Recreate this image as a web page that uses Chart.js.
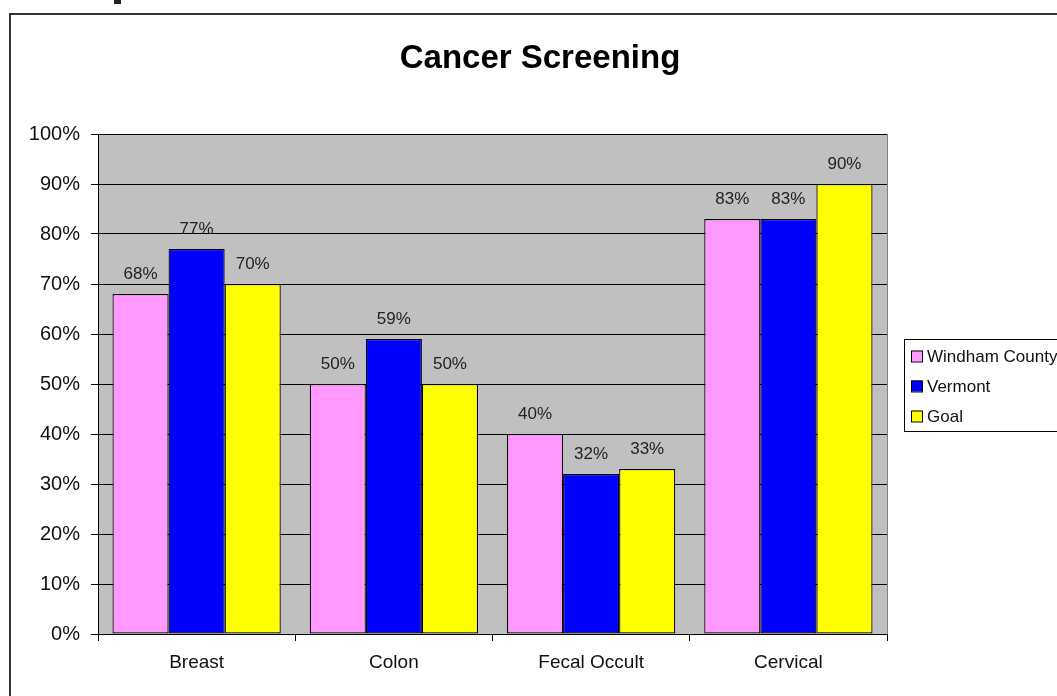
<!DOCTYPE html>
<html>
<head>
<meta charset="utf-8">
<script src="https://cdn.jsdelivr.net/npm/chart.js@4"></script>
<style>
html,body{margin:0;padding:0;background:#fff;}
#wrap{width:1057px;height:696px;position:relative;}
</style>
</head>
<body>
<div id="wrap"><canvas id="c" width="1057" height="696"></canvas></div>
<script>
const categories = ["Breast", "Colon", "Fecal Occult", "Cervical"];
const windham = [68, 50, 40, 83];
const vermont = [77, 59, 32, 83];
const goal = [70, 50, 33, 90];
const seriesNames = ["Windham County", "Vermont", "Goal"];
const seriesColors = ["#FF99FF", "#0000FF", "#FFFF00"];
const yTicks = [0, 10, 20, 30, 40, 50, 60, 70, 80, 90, 100];
const titleText = "Cancer Screening";
const FONT = "Arial, 'Liberation Sans', sans-serif";

const framePlugin = {
  id: 'frame',
  beforeDraw(chart) {
    const ctx = chart.ctx, a = chart.chartArea;
    ctx.save();
    ctx.fillStyle = '#fff';
    ctx.fillRect(0, 0, chart.width, chart.height);
    ctx.strokeStyle = '#333';
    ctx.lineWidth = 2;
    ctx.beginPath();
    ctx.moveTo(10, 700);
    ctx.lineTo(10, 14);
    ctx.lineTo(1060, 14);
    ctx.stroke();
    ctx.fillStyle = '#222';
    ctx.fillRect(114, 0, 7, 4);
    ctx.fillStyle = '#C0C0C0';
    ctx.fillRect(a.left, a.top, a.right - a.left, a.bottom - a.top);
    ctx.strokeStyle = '#808080';
    ctx.lineWidth = 1;
    ctx.strokeRect(a.left + 0.5, a.top + 0.5, a.right - a.left, a.bottom - a.top);
    ctx.fillStyle = '#000';
    ctx.font = "bold 33px " + FONT;
    ctx.textAlign = 'center';
    ctx.textBaseline = 'alphabetic';
    ctx.fillText(titleText, 540, 68);
    ctx.restore();
  },
  afterDatasetsDraw(chart) {
    const ctx = chart.ctx;
    ctx.save();
    ctx.font = "17px " + FONT;
    ctx.fillStyle = '#222';
    ctx.textAlign = 'center';
    ctx.textBaseline = 'middle';
    chart.data.datasets.forEach((ds, i) => {
      chart.getDatasetMeta(i).data.forEach((bar, j) => {
        ctx.fillText(ds.data[j] + '%', bar.x, bar.y - 20);
      });
    });
    ctx.strokeStyle = '#000';
    ctx.lineWidth = 1;
    ctx.fillStyle = '#fff';
    ctx.fillRect(904, 339, 160, 92);
    ctx.strokeRect(904.5, 339.5, 160, 92);
    ctx.font = "17px " + FONT;
    ctx.textAlign = 'left';
    chart.data.datasets.forEach((ds, i) => {
      const cy = 356 + i * 30;
      ctx.fillStyle = ds.backgroundColor;
      ctx.fillRect(911, cy - 5.5, 11, 11);
      ctx.strokeStyle = '#000';
      ctx.strokeRect(911.5, cy - 5, 11, 11);
      ctx.fillStyle = '#111';
      ctx.fillText(ds.label, 927, cy + 1);
    });
    ctx.restore();
  }
};

const datasets = [windham, vermont, goal].map((d, i) => ({
  label: seriesNames[i],
  data: d,
  backgroundColor: seriesColors[i],
  borderColor: '#000',
  borderWidth: 1.2,
  borderSkipped: false,
  categoryPercentage: 0.853,
  barPercentage: 1.0
}));

new Chart(document.getElementById('c'), {
  type: 'bar',
  data: { labels: categories, datasets },
  options: {
    responsive: false,
    animation: false,
    devicePixelRatio: 1,
    layout: { padding: { top: 134, right: 170, bottom: 0, left: 0 } },
    plugins: { legend: { display: false }, title: { display: false }, tooltip: { enabled: false } },
    scales: {
      x: {
        grid: { display: true, offset: true, drawOnChartArea: false, color: '#000', tickLength: 7 },
        border: { display: true, color: '#000' },
        ticks: { color: '#111', font: { size: 19, family: FONT }, padding: 10 },
        afterFit(s) { s.height = 62; }
      },
      y: {
        min: 0, max: 100,
        afterBuildTicks(s) { s.ticks = yTicks.map(v => ({ value: v })); },
        grid: { color: '#000', tickLength: 7 },
        border: { display: true, color: '#000' },
        ticks: { color: '#111', font: { size: 20, family: FONT }, padding: 11, callback: v => v + '%' },
        afterFit(s) { s.width = 98; }
      }
    }
  },
  plugins: [framePlugin]
});
</script>
</body>
</html>
